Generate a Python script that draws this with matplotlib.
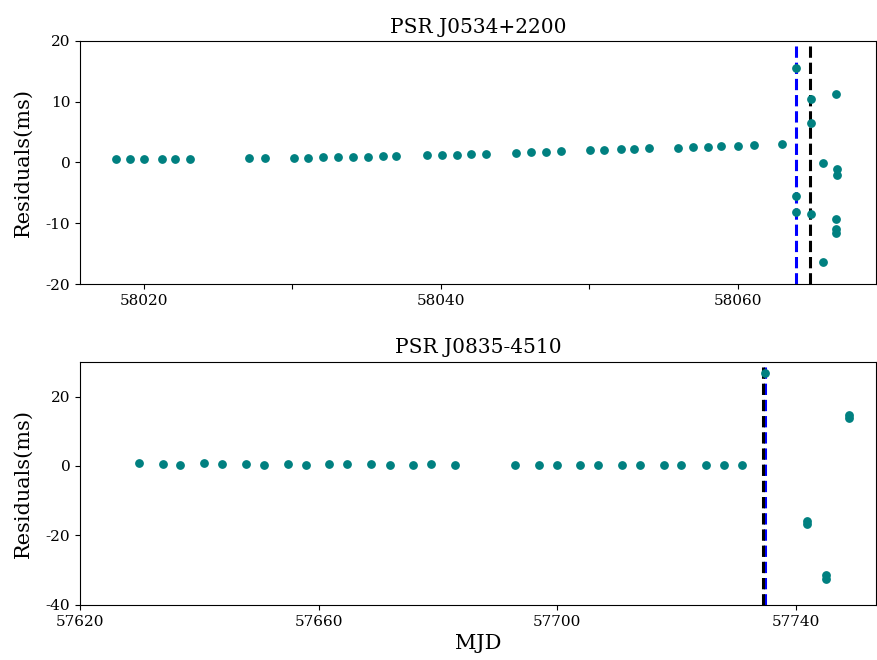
import matplotlib
matplotlib.use("Agg")
import matplotlib.pyplot as plt

plt.rcParams['font.family'] = ['DejaVu Serif']
plt.rcParams['axes.unicode_minus'] = False

# PSR J0534+2200
crab_mjd = [58018.1, 58019.07, 58020.02, 58021.19, 58022.09, 58023.12,
            58027.08, 58028.14,
            58030.09, 58031.06, 58032.09, 58033.1, 58034.11, 58035.12, 58036.1, 58037.01,
            58039.06, 58040.05, 58041.06, 58042.05, 58043.04,
            58045.06, 58046.05, 58047.09, 58048.1,
            58050.05, 58050.97, 58052.12, 58053.0, 58054.03,
            58055.94, 58056.97, 58058.01, 58058.86, 58060.0, 58061.05,
            58062.96,
            58063.9, 58063.9, 58063.9,
            58064.9, 58064.9, 58064.9,
            58065.75, 58065.75,
            58066.6, 58066.65, 58066.65, 58066.6, 58066.6, 58066.6]
crab_res = [0.5, 0.5, 0.5, 0.55, 0.55, 0.55,
            0.7, 0.7,
            0.8, 0.8, 0.85, 0.9, 0.95, 0.95, 1.05, 1.05,
            1.2, 1.25, 1.3, 1.35, 1.45,
            1.6, 1.65, 1.75, 1.85,
            2.0, 2.05, 2.15, 2.25, 2.3,
            2.45, 2.5, 2.6, 2.7, 2.75, 2.85,
            3.05,
            15.5, -5.5, -8.1,
            10.5, 6.55, -8.5,
            -0.1, -16.4,
            11.2, -1.0, -2.0, -9.35, -10.9, -11.65]
crab_glitch_blue = 58063.9
crab_glitch_black = 58064.85

# PSR J0835-4510
vela_mjd = [57629.85, 57633.9, 57636.8, 57640.8, 57643.8, 57647.8, 57650.8, 57654.8,
            57657.8, 57661.8, 57664.8, 57668.8, 57671.9, 57675.8, 57678.8, 57682.9,
            57692.9, 57697.0, 57699.9, 57703.8, 57706.8, 57710.9, 57713.9, 57717.9,
            57720.8, 57724.9, 57727.9, 57730.9,
            57734.8,
            57741.9, 57741.9,
            57745.0, 57745.0,
            57748.9, 57748.9]
vela_res = [0.9, 0.7, 0.4, 0.8, 0.6, 0.5, 0.4, 0.5,
            0.3, 0.6, 0.6, 0.6, 0.4, 0.4, 0.5, 0.4,
            0.4, 0.2, 0.4, 0.4, 0.4, 0.4, 0.4, 0.4,
            0.4, 0.4, 0.3, 0.4,
            26.8,
            -15.7, -16.6,
            -31.5, -32.5,
            14.6, 13.9]
vela_glitch_blue = 57734.8
vela_glitch_black = 57734.4

fig, (ax1, ax2) = plt.subplots(2, 1, figsize=(8.77, 6.6), dpi=100)
fig.subplots_adjust(left=0.0912, right=0.9989, top=0.938, bottom=0.0835, hspace=0.32)

ax1.axvline(crab_glitch_blue, color='blue', linestyle='--', linewidth=2.2)
ax1.axvline(crab_glitch_black, color='black', linestyle='--', linewidth=2.2)
ax1.scatter(crab_mjd, crab_res, color='teal', s=28, zorder=3)
ax1.set_xlim(58015.7, 58069.3)
ax1.set_ylim(-20, 20)
ax1.set_yticks([-20, -10, 0, 10, 20])
ax1.set_xticks([58020, 58030, 58040, 58050, 58060])
ax1.set_xticklabels(['58020', '', '58040', '', '58060'])
ax1.set_ylabel('Residuals(ms)', fontsize=15, labelpad=9)
ax1.set_title('PSR J0534+2200', fontsize=14.5)
ax1.tick_params(labelsize=11)

ax2.axvline(vela_glitch_blue, color='blue', linestyle='--', linewidth=2.2)
ax2.axvline(vela_glitch_black, color='black', linestyle='--', linewidth=2.2)
ax2.scatter(vela_mjd, vela_res, color='teal', s=28, zorder=3)
ax2.set_xlim(57620, 57753.4)
ax2.set_ylim(-40, 30)
ax2.set_yticks([-40, -20, 0, 20])
ax2.set_xticks([57620, 57660, 57700, 57740])
ax2.set_xticklabels(['57620', '57660', '57700', '57740'])
ax2.set_xlabel('MJD', fontsize=15)
ax2.set_ylabel('Residuals(ms)', fontsize=15, labelpad=9)
ax2.set_title('PSR J0835-4510', fontsize=14.5)
ax2.tick_params(labelsize=11)

fig.savefig('out.png', dpi=100)
